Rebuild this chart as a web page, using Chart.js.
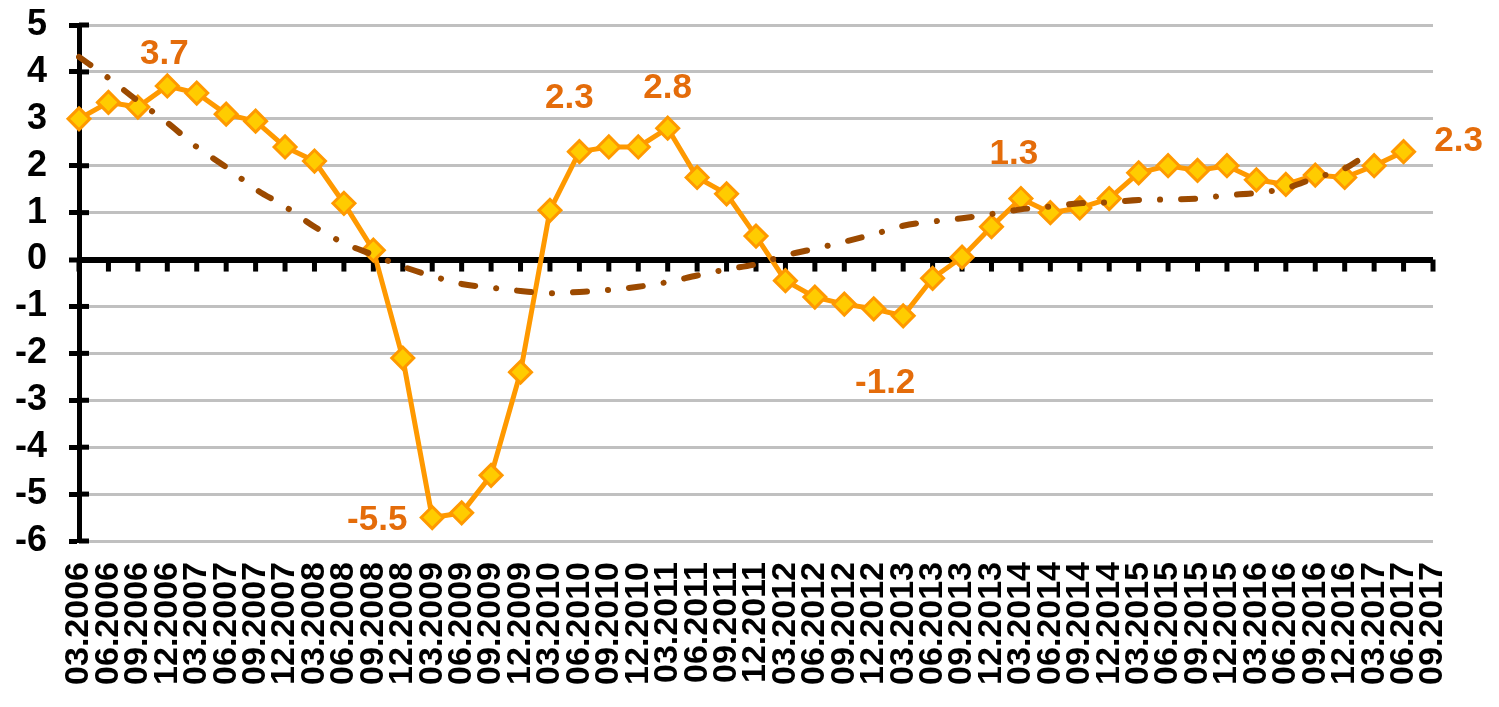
<!DOCTYPE html>
<html>
<head>
<meta charset="utf-8">
<script src="https://cdn.jsdelivr.net/npm/chart.js@4/dist/chart.umd.min.js"></script>
<style>
  html, body { margin: 0; padding: 0; background: #fff; }
  canvas { display: block; }
</style>
</head>
<body>
<canvas id="chart" width="1499" height="707"></canvas>
<script>
// quarters 03.2006 .. 09.2017
const quarters = [
  '03.2006','06.2006','09.2006','12.2006',
  '03.2007','06.2007','09.2007','12.2007',
  '03.2008','06.2008','09.2008','12.2008',
  '03.2009','06.2009','09.2009','12.2009',
  '03.2010','06.2010','09.2010','12.2010',
  '03.2011','06.2011','09.2011','12.2011',
  '03.2012','06.2012','09.2012','12.2012',
  '03.2013','06.2013','09.2013','12.2013',
  '03.2014','06.2014','09.2014','12.2014',
  '03.2015','06.2015','09.2015','12.2015',
  '03.2016','06.2016','09.2016','12.2016',
  '03.2017','06.2017','09.2017'
];

// main series
const growth = [
  3.0, 3.35, 3.25, 3.7, 3.55, 3.1, 2.95, 2.4, 2.1, 1.2,
  0.2, -2.1, -5.5, -5.4, -4.6, -2.4, 1.05, 2.3, 2.4, 2.4,
  2.8, 1.75, 1.4, 0.5, -0.45, -0.8, -0.95, -1.05, -1.2, -0.4,
  0.05, 0.7, 1.3, 1.0, 1.1, 1.3, 1.85, 2.0, 1.9, 2.0,
  1.7, 1.6, 1.8, 1.75, 2.0, 2.3
];

// dash-dot trend
const trend = [
  4.32, 3.87, 3.38, 2.92, 2.4, 1.97, 1.5, 1.13, 0.7, 0.35,
  0.1, -0.15, -0.35, -0.52, -0.6, -0.67, -0.72, -0.69, -0.65, -0.58,
  -0.48, -0.34, -0.21, -0.1, 0.09, 0.23, 0.38, 0.54, 0.72, 0.81,
  0.88, 0.97, 1.07, 1.13, 1.2, 1.22, 1.27, 1.28, 1.3, 1.37,
  1.42, 1.52, 1.74, 1.94, 2.35
];

// which points get a value label
const labelledPoints = [3, 12, 17, 20, 28, 32, 45];

const yTicks = { min: -6, max: 5, step: 1 };

// label offsets relative to the point (px)
const labelOffsets = {
  3: [-3, -32], 12: [-55, 3], 17: [-10, -53], 20: [0, -40],
  28: [-18, 68], 32: [-7, -44], 45: [55, -10]
};

const FONT = "'Liberation Sans', Arial, sans-serif";

const axisMarks = {
  id: 'axisMarks',
  beforeDatasetsDraw(chart) {
    const { ctx, chartArea, scales: { x, y } } = chart;
    const y0 = y.getPixelForValue(0);
    ctx.save();
    ctx.fillStyle = '#000';
    x.ticks.forEach((t, i) => {
      const px = x.getPixelForTick(i);
      ctx.fillRect(px - 2.5, y0, 5, 12);
    });
    y.ticks.forEach((t, i) => {
      const py = y.getPixelForTick(i);
      ctx.fillRect(chartArea.left, py - 2.5, 10, 5);
    });
    ctx.restore();
  }
};

const valueLabels = {
  id: 'valueLabels',
  afterDatasetsDraw(chart) {
    const meta = chart.getDatasetMeta(1);
    const ctx = chart.ctx;
    ctx.save();
    ctx.font = 'bold 35px ' + FONT;
    ctx.fillStyle = '#E46C0A';
    ctx.textAlign = 'center';
    ctx.textBaseline = 'middle';
    labelledPoints.forEach(i => {
      const pt = meta.data[i];
      const off = labelOffsets[i] || [0, -35];
      ctx.fillText(growth[i].toFixed(1), pt.x + off[0], pt.y + off[1]);
    });
    ctx.restore();
  }
};

new Chart(document.getElementById('chart'), {
  type: 'line',
  data: {
    labels: quarters,
    datasets: [
      {
        label: 'trend',
        data: trend,
        borderColor: '#9C4A00',
        borderWidth: 6,
        borderDash: [14, 21, 0.1, 21],
        borderCapStyle: 'round',
        cubicInterpolationMode: 'monotone',
        pointRadius: 0,
        fill: false,
        order: 1
      },
      {
        label: 'growth',
        data: growth,
        borderColor: '#FF9900',
        borderWidth: 5,
        tension: 0,
        pointStyle: 'rectRot',
        pointRadius: 11,
        pointBorderWidth: 3,
        pointBackgroundColor: '#FFCC00',
        pointBorderColor: '#FF9900',
        fill: false,
        order: 2
      }
    ]
  },
  options: {
    responsive: false,
    devicePixelRatio: 1,
    animation: false,
    layout: { autoPadding: false, padding: { top: 25, right: 66, left: 0, bottom: 0 } },
    plugins: {
      legend: { display: false },
      tooltip: { enabled: false }
    },
    scales: {
      x: {
        offset: false,
        grid: { display: false, drawTicks: false },
        border: { display: false },
        ticks: {
          autoSkip: false,
          minRotation: 90,
          maxRotation: 90,
          padding: 21,
          color: '#000',
          font: { family: FONT, size: 34, weight: 'bold' }
        },
        afterFit(scale) { scale.height = 166; }
      },
      y: {
        min: yTicks.min,
        max: yTicks.max,
        ticks: {
          stepSize: yTicks.step,
          autoSkip: false,
          padding: 22,
          color: '#000',
          // small lineHeight keeps the tick padding from pushing the plot down
          font: { family: FONT, size: 36, weight: 'bold', lineHeight: 0.1 }
        },
        grid: {
          color: c => (c.tick && c.tick.value === 0) ? '#000' : '#C0C0C0',
          lineWidth: c => (c.tick && c.tick.value === 0) ? 6 : 3,
          tickColor: '#000',
          tickWidth: 5,
          tickLength: 10
        },
        border: { color: '#000', width: 5 },
        afterFit(scale) {
          scale.width = 79;
          scale.paddingTop = 0;
          scale.paddingBottom = 0;
        }
      }
    }
  },
  plugins: [axisMarks, valueLabels]
});
</script>
</body>
</html>
